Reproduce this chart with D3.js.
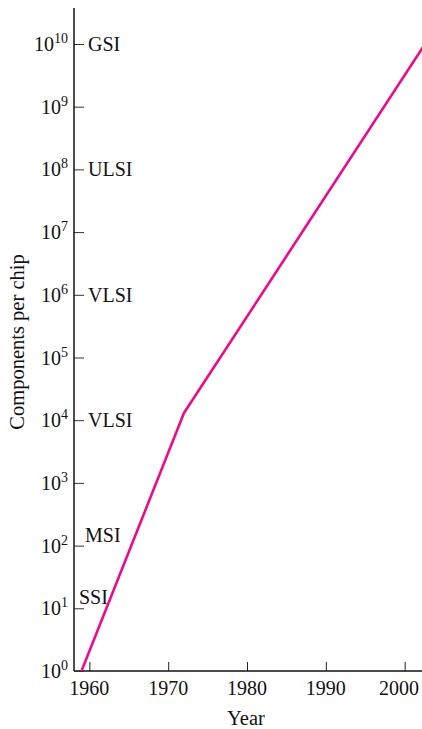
<!DOCTYPE html>
<html>
<head>
<meta charset="utf-8">
<script src="https://cdn.jsdelivr.net/npm/d3@7"></script>
<style>
  html, body { margin: 0; padding: 0; background: #fff; }
  svg text { font-family: "Liberation Serif", "DejaVu Serif", serif; fill: #111; }
</style>
</head>
<body>
<svg id="chart" width="422" height="729"></svg>
<script>
// Integration scale: year vs. components per chip
const trendYears = [1959, 1972, 2003];
const trendComponents = [1, 1.3e4, 1.2e10];

const xTickYears = [1960, 1970, 1980, 1990, 2000];
const yTickExponents = [0, 1, 2, 3, 4, 5, 6, 7, 8, 9, 10];

// Integration-level names placed beside the axis
const levelNames = ["SSI", "MSI", "VLSI", "VLSI", "ULSI", "GSI"];
const levelExponents = [1, 2, 4, 6, 8, 10];
const levelAbove = [true, true, false, false, false, false];

const svg = d3.select("#chart");
const margin = { left: 74, right: 0, top: 8, bottom: 58 };
const W = 422, H = 729;
const FS = 20;

const x = d3.scaleLinear()
  .domain([1958.05, 2002.2])
  .range([margin.left, W - margin.right]);
const y = d3.scaleLog()
  .domain([1, 1e10])
  .range([H - margin.bottom, 44]);

const yBottom = H - margin.bottom;

// clip so the trend line stops at the plot edges
svg.append("defs").append("clipPath").attr("id", "plot")
  .append("rect")
  .attr("x", margin.left).attr("y", margin.top)
  .attr("width", W - margin.left).attr("height", yBottom - margin.top);

// x axis
const xAxis = d3.axisTop(x).tickValues(xTickYears).tickSize(9).tickFormat("");
const gx = svg.append("g").attr("transform", `translate(0,${yBottom})`).call(xAxis);
gx.select(".domain").remove();
gx.selectAll(".tick line").attr("stroke", "#222").attr("stroke-width", 1);
svg.append("line")
  .attr("x1", margin.left).attr("x2", W)
  .attr("y1", yBottom).attr("y2", yBottom)
  .attr("stroke", "#111").attr("stroke-width", 1.5);
svg.selectAll(".xlab").data(xTickYears).enter().append("text")
  .attr("x", d => x(d)).attr("y", yBottom + 24)
  .attr("text-anchor", "middle").attr("font-size", FS)
  .text(d => d)
  .each(function (d) {
    // keep the last year label inside the right edge
    const half = this.getComputedTextLength() / 2;
    const cx = Math.min(x(d), W - 3 - half);
    d3.select(this).attr("x", cx);
  });

// y axis
const yAxis = d3.axisRight(y)
  .tickValues(yTickExponents.map(e => Math.pow(10, e)))
  .tickSize(10).tickFormat("");
const gy = svg.append("g").attr("transform", `translate(${margin.left},0)`).call(yAxis);
gy.select(".domain").remove();
gy.selectAll(".tick line").attr("stroke", "#333").attr("stroke-width", 1);
svg.append("line")
  .attr("x1", margin.left).attr("x2", margin.left)
  .attr("y1", margin.top).attr("y2", yBottom)
  .attr("stroke", "#111").attr("stroke-width", 1.5);

const ylab = svg.selectAll(".ylab").data(yTickExponents).enter().append("text")
  .attr("x", 68).attr("y", d => y(Math.pow(10, d)) + 7)
  .attr("text-anchor", "end").attr("font-size", FS);
ylab.append("tspan").text("10");
ylab.append("tspan").attr("dy", -8).attr("font-size", 14).text(d => d);

// integration-level names
svg.selectAll(".level").data(levelNames).enter().append("text")
  .attr("x", (d, i) => levelAbove[i] ? (levelExponents[i] === 1 ? 79 : 85) : 88)
  .attr("y", (d, i) => {
    const yy = y(Math.pow(10, levelExponents[i]));
    return levelAbove[i] ? yy - 4 : yy + 7;
  })
  .attr("font-size", FS)
  .text(d => d);

// axis titles
svg.append("text")
  .attr("transform", `translate(24,342) rotate(-90)`)
  .attr("text-anchor", "middle").attr("font-size", 20.5)
  .text("Components per chip");
svg.append("text")
  .attr("x", 246).attr("y", 725)
  .attr("text-anchor", "middle").attr("font-size", 20.5)
  .text("Year");

// trend line
const line = d3.line()
  .x((d, i) => x(trendYears[i]))
  .y(d => y(d));
svg.append("path")
  .datum(trendComponents)
  .attr("clip-path", "url(#plot)")
  .attr("d", line)
  .attr("fill", "none")
  .attr("stroke", "#ea0c8a")
  .attr("stroke-width", 2.6)
  .attr("stroke-linejoin", "round");
</script>
</body>
</html>
